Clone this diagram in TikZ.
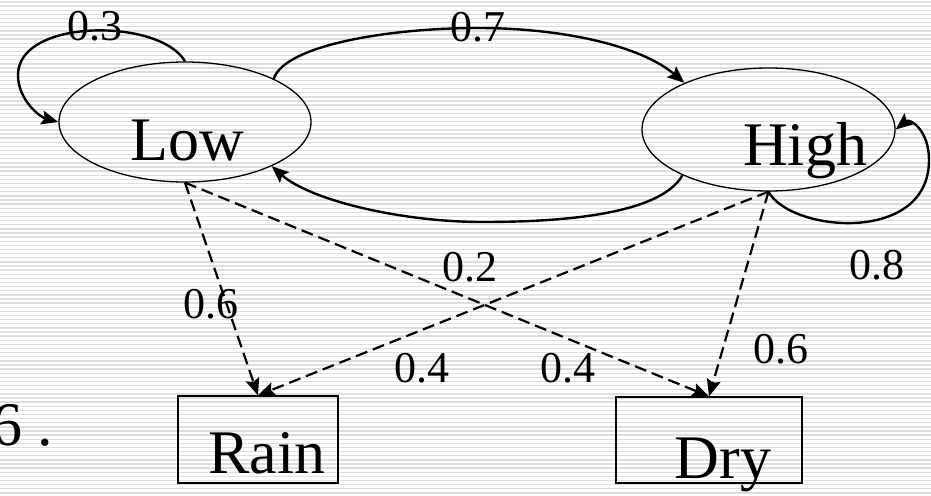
\documentclass[tikz,border=0pt]{standalone}
\usepackage{fontspec}
\setmainfont{Liberation Serif}
\usetikzlibrary{arrows.meta,shapes.geometric}
\definecolor{stripe}{RGB}{222,222,222}
\begin{document}
\begin{tikzpicture}[x=1pt,y=-1pt,
  state/.style={draw,ellipse,line width=1.3pt,inner sep=0pt},
  obs/.style={draw,rectangle,line width=1.3pt,inner sep=0pt},
  statename/.style={font=\fontsize{62}{62}\selectfont,inner sep=0pt,anchor=base},
  prob/.style={font=\fontsize{44}{44}\selectfont,inner sep=0pt},
  trans/.style={line width=2.4pt,-{Stealth[length=17pt,width=14pt,inset=3pt]}},
  emit/.style={trans,line width=2.2pt,dash pattern=on 12pt off 6pt},
]
\useasboundingbox (0,0) rectangle (931,495);
\clip (0,0) rectangle (931,495);
% striped slide background
\fill[white] (0,0) rectangle (931,495);
\foreach \i in {0,...,120}
  \draw[stripe,line width=1.3pt] (0,\i*4.125+2) -- (931,\i*4.125+2);

% hidden states and observations
\node[state,minimum width=252pt,minimum height=120pt] (low) at (185,122) {};
\node[state,minimum width=253pt,minimum height=123pt] (high) at (768.5,129.5) {};
\node[obs,minimum width=160pt,minimum height=87pt] (rain) at (258,439.5) {};
\node[obs,minimum width=186pt,minimum height=86pt] (dry) at (709,440) {};

\node[statename] (lowtext) at (187,160) {Low};
\node[statename] (hightext) at (805,165) {High};
\node[statename] (raintext) at (267,473) {Rain};
\node[statename] (drytext) at (723,478) {Dry};
\node[statename,anchor=base west] (frag) at (-9,445) {6 .};

% state transitions
\draw[trans] (low.north) .. controls (160,18) and (18,18) .. (18,75)
  .. controls (18,100) and (40,117) .. (low.west);
\draw[trans] (low.26) .. controls (285,45) and (390,28) .. (478,28)
  .. controls (560,28) and (640,45) .. (high.151);
\draw[trans] (high.208) .. controls (660,215) and (560,222) .. (483,222)
  .. controls (400,222) and (310,200) .. (low.333);
\draw[trans] (high.south) .. controls (790,232) and (929,245) .. (929,160)
  .. controls (929,130) and (910,118) .. (high.east);

% emissions
\draw[emit] (low.south) -- (rain.north);
\draw[emit] (low.south) -- (dry.north);
\draw[emit] (high.south) -- (rain.north);
\draw[emit] (high.south) -- (dry.north);

% probabilities
\node[prob] (p03) at (94.5,26.5) {0.3};
\node[prob] (p07) at (478,27.5) {0.7};
\node[prob] (p08) at (877,265) {0.8};
\node[prob] (p06a) at (211,304) {0.6};
\node[prob] (p02) at (470,267) {0.2};
\node[prob] (p04a) at (422,368) {0.4};
\node[prob] (p04b) at (568,368) {0.4};
\node[prob] (p06b) at (781,349) {0.6};
\end{tikzpicture}
\end{document}
